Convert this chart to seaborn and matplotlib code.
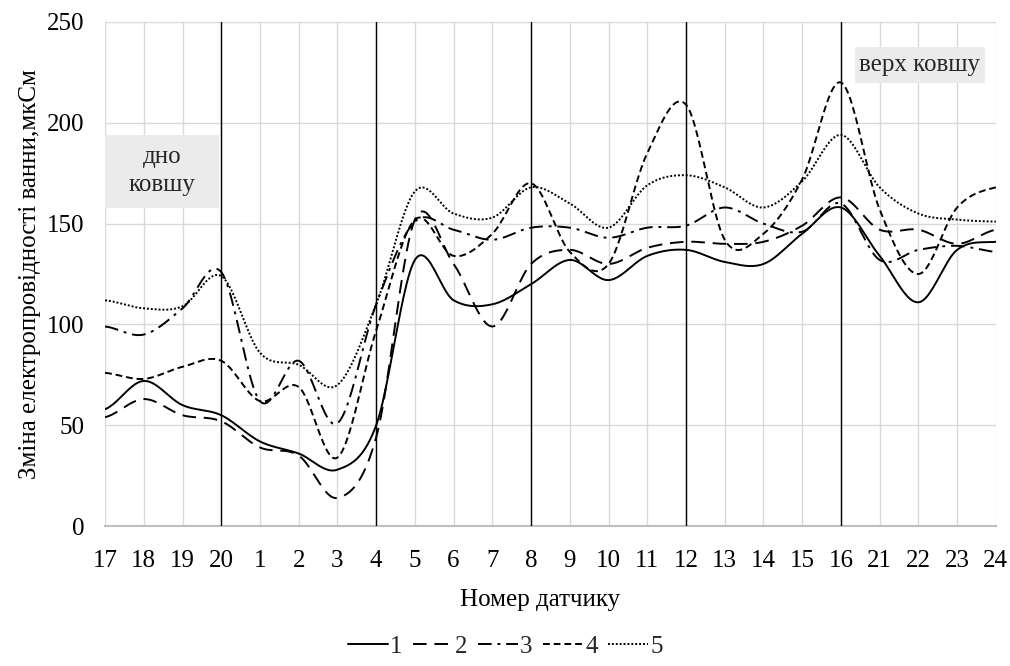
import numpy as np
import pandas as pd
import matplotlib
matplotlib.use("Agg")
import matplotlib.pyplot as plt
from matplotlib.patches import Rectangle
import seaborn as sns

# sensor order along the x axis (bottom -> top of ladle)
sensors = ["17", "18", "19", "20", "1", "2", "3", "4", "5", "6", "7", "8",
           "9", "10", "11", "12", "13", "14", "15", "16", "21", "22", "23", "24"]

series_1 = [58, 72, 60, 55, 42, 36, 28, 50, 132, 112, 110, 120,
            132, 122, 134, 137, 131, 130, 145, 158, 134, 111, 137, 141]
series_2 = [54, 63, 55, 52, 39, 35, 14, 44, 152, 130, 99, 130,
            137, 130, 138, 141, 140, 141, 149, 163, 147, 147, 140, 147]
series_3 = [99, 95, 108, 126, 62, 82, 51, 110, 151, 147, 142, 148,
            148, 143, 148, 149, 158, 150, 146, 160, 132, 137, 139, 136]
series_4 = [76, 73, 79, 82, 62, 69, 34, 97, 152, 134, 145, 170,
            136, 130, 185, 209, 142, 145, 172, 220, 157, 125, 158, 168]
series_5 = [112, 108, 109, 124, 86, 80, 70, 110, 166, 155, 153, 168,
            160, 148, 169, 174, 168, 158, 171, 194, 168, 155, 152, 151]

series_names = ["1", "2", "3", "4", "5"]
section_marks = ["20", "4", "8", "12", "16"]


def smooth_curve(values, steps=24):
    """Catmull-Rom smoothing, like Excel's 'smoothed line' option."""
    y = np.asarray(values, dtype=float)
    n = len(y)
    xs, ys = [], []
    for i in range(n - 1):
        p0 = y[i - 1] if i > 0 else y[i]
        p1, p2 = y[i], y[i + 1]
        p3 = y[i + 2] if i + 2 < n else y[i + 1]
        t = np.linspace(0, 1, steps, endpoint=False)
        seg = 0.5 * ((2 * p1) + (-p0 + p2) * t
                     + (2 * p0 - 5 * p1 + 4 * p2 - p3) * t ** 2
                     + (-p0 + 3 * p1 - 3 * p2 + p3) * t ** 3)
        xs.append(i + t)
        ys.append(seg)
    xs.append([n - 1])
    ys.append([y[-1]])
    return np.concatenate(xs), np.concatenate(ys)


sns.set_theme(style="whitegrid")
plt.rcParams["font.family"] = ["Liberation Serif", "DejaVu Serif"]
FS = 18

fig, ax = plt.subplots(figsize=(10.1, 6.66), dpi=100)
fig.subplots_adjust(left=0.104, right=0.986, top=0.967, bottom=0.21)

styles = ["-", (0, (7, 4)), (0, (7, 3, 1.5, 3)), (0, (3.5, 2)), (0, (1, 1))]
all_series = [series_1, series_2, series_3, series_4, series_5]
for name, values, ls in zip(series_names, all_series, styles):
    xs, ys = smooth_curve(values)
    sns.lineplot(x=xs, y=ys, ax=ax, color="black", linewidth=1.4,
                 linestyle=ls, label=name, sort=False, zorder=4)

for mark in section_marks:
    ax.axvline(sensors.index(mark), color="black", linewidth=1.0, zorder=3)

# shaded captions
ax.add_patch(Rectangle((0, 158), 2.95, 36, facecolor="#ebebeb",
                       edgecolor="none", zorder=2))
ax.text(1.47, 176, "дно\nковшу", ha="center", va="center", fontsize=FS,
        linespacing=1.35, zorder=5)
ax.add_patch(Rectangle((19.36, 219.5), 3.35, 18, facecolor="#ebebeb",
                       edgecolor="none", zorder=2))
ax.text(21.03, 228.5, "верх ковшу", ha="center", va="center", fontsize=FS,
        zorder=5)

ax.set_xlim(0, len(sensors) - 1)
ax.set_ylim(0, 250)
ax.set_xticks(range(len(sensors)))
ax.set_xticklabels(sensors)
ax.set_yticks(range(0, 251, 50))
ax.tick_params(axis="both", length=0, labelsize=FS, colors="black")
ax.tick_params(axis="x", pad=17)
ax.tick_params(axis="y", pad=15)
ax.set_facecolor("white")
ax.grid(True, color="#d9d9d9", linewidth=1.0)
for side in ["top", "right", "left"]:
    ax.spines[side].set_visible(False)
ax.spines["bottom"].set_color("#bfbfbf")
ax.spines["bottom"].set_linewidth(1.5)

ax.set_xlabel("Номер датчику", fontsize=FS, color="black")
ax.xaxis.set_label_coords(0.488, -0.125)
ax.set_ylabel("Зміна електропровідності ванни,мкСм", fontsize=FS,
              color="black", labelpad=4)

handles, labels = ax.get_legend_handles_labels()
ax.get_legend().remove()
fig.legend(handles, labels, loc="lower center", bbox_to_anchor=(0.5, -0.022),
           ncol=5, frameon=False, fontsize=FS, handlelength=1.6,
           handletextpad=0.1, columnspacing=0.4)

fig.savefig("out.png", dpi=100)
